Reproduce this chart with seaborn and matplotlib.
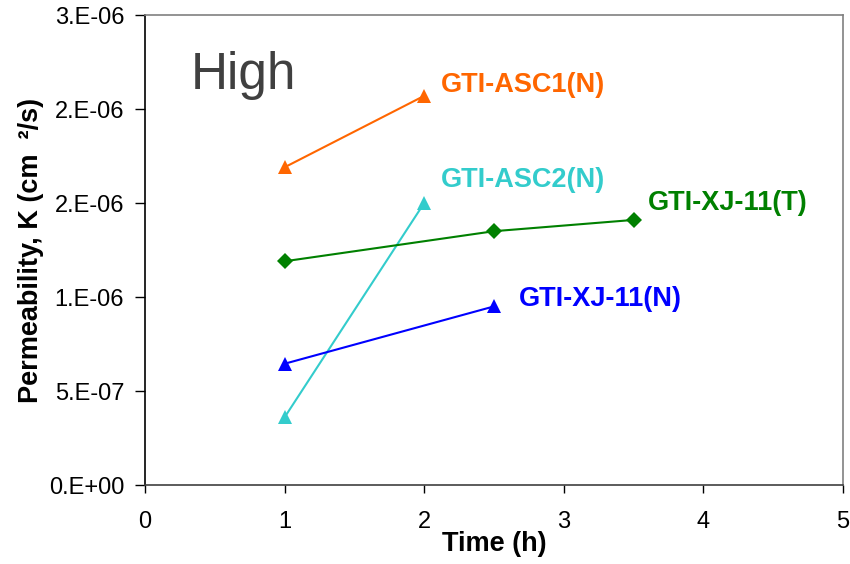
import pandas as pd
import seaborn as sns
import matplotlib.pyplot as plt

sns.set_style("white")
plt.rcParams["font.family"] = ["Liberation Sans", "DejaVu Sans"]

# data
SERIES = ["GTI-ASC1(N)", "GTI-ASC2(N)", "GTI-XJ-11(T)", "GTI-XJ-11(N)"]
asc1_time = [1, 2]
asc1_k = [1.69e-6, 2.07e-6]
asc2_time = [1, 2]
asc2_k = [3.6e-7, 1.50e-6]
xj11t_time = [1, 2.5, 3.5]
xj11t_k = [1.19e-6, 1.35e-6, 1.41e-6]
xj11n_time = [1, 2.5]
xj11n_k = [6.45e-7, 9.5e-7]

Y_TICKS = [0, 5e-7, 1e-6, 1.5e-6, 2e-6, 2.5e-6]
Y_TICKLABELS = ["0.E+00", "5.E-07", "1.E-06", "2.E-06", "2.E-06", "3.E-06"]
X_TICKS = [0, 1, 2, 3, 4, 5]

COLORS = {
    "GTI-ASC1(N)": "#FF6600",
    "GTI-ASC2(N)": "#33CCCC",
    "GTI-XJ-11(T)": "#008000",
    "GTI-XJ-11(N)": "#0000FF",
}
MARKERS = {
    "GTI-ASC1(N)": "^",
    "GTI-ASC2(N)": "^",
    "GTI-XJ-11(T)": "D",
    "GTI-XJ-11(N)": "^",
}
# where each series name is written (x, y in data units)
LABEL_POS = {
    "GTI-ASC1(N)": (2.12, 2.13e-6),
    "GTI-ASC2(N)": (2.12, 1.62e-6),
    "GTI-XJ-11(T)": (3.60, 1.50e-6),
    "GTI-XJ-11(N)": (2.68, 0.99e-6),
}

df = pd.concat([
    pd.DataFrame({"time": asc1_time, "k": asc1_k, "sample": SERIES[0]}),
    pd.DataFrame({"time": asc2_time, "k": asc2_k, "sample": SERIES[1]}),
    pd.DataFrame({"time": xj11t_time, "k": xj11t_k, "sample": SERIES[2]}),
    pd.DataFrame({"time": xj11n_time, "k": xj11n_k, "sample": SERIES[3]}),
], ignore_index=True)

fig = plt.figure(figsize=(8.5, 5.64), dpi=100)
ax = fig.add_axes([145/850, 79/564, 698/850, 470/564])

# triangles and diamonds differ in size, so two calls
sns.lineplot(ax=ax, data=df[df["sample"] != "GTI-XJ-11(T)"], x="time", y="k",
             hue="sample", style="sample", palette=COLORS, markers=MARKERS,
             dashes=False, legend=False, sort=False, linewidth=1.5,
             markersize=10.5, markeredgewidth=0)
sns.lineplot(ax=ax, data=df[df["sample"] == "GTI-XJ-11(T)"], x="time", y="k",
             hue="sample", style="sample", palette=COLORS, markers=MARKERS,
             dashes=False, legend=False, sort=False, linewidth=1.5,
             markersize=8.5, markeredgewidth=0)

for name, (tx, ty) in LABEL_POS.items():
    ax.text(tx, ty, name, color=COLORS[name], fontsize=19.5, fontweight="bold",
            ha="left", va="center")
ax.text(0.33, 2.18e-6, "High", color="#404040", fontsize=37, ha="left", va="center")

ax.set_xlim(0, 5)
ax.set_ylim(0, 2.5e-6)
ax.set_xticks(X_TICKS)
ax.set_yticks(Y_TICKS)
ax.set_yticklabels(Y_TICKLABELS)
ax.tick_params(axis="both", labelsize=17, direction="out", width=1,
               left=True, bottom=True, color="black", labelcolor="black")
ax.tick_params(axis="y", length=7, pad=8)
ax.tick_params(axis="x", length=6, pad=13)

ax.set_xlabel("Time (h)", fontsize=19.5, fontweight="bold", color="black")
ax.set_ylabel("Permeability, K (cm  ²/s)", fontsize=19.5, fontweight="bold", color="black")
ax.xaxis.set_label_coords(0.5, -0.097)
ax.yaxis.set_label_coords(-0.145, 0.5)

ax.spines["left"].set_color("black")
ax.spines["bottom"].set_color("#404040")
ax.spines["top"].set_color("#808080")
ax.spines["right"].set_color("#808080")
for sp in ax.spines.values():
    sp.set_linewidth(1.2)

fig.savefig("out.png", dpi=100)
